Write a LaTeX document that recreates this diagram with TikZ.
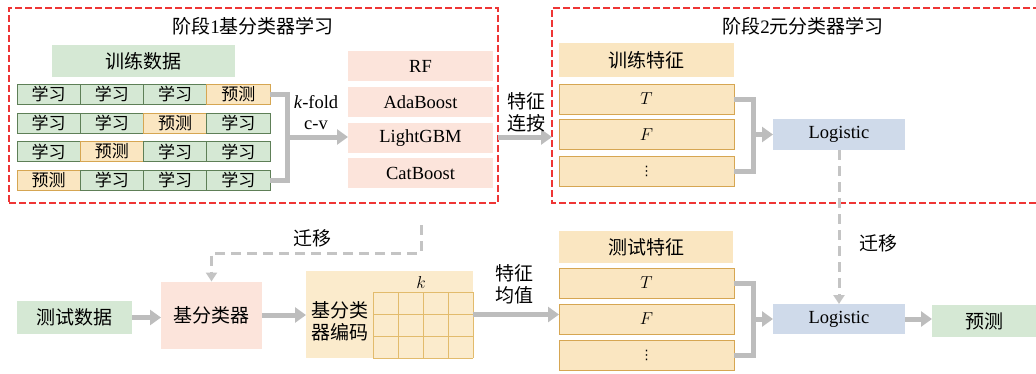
\documentclass[tikz,border=0pt]{standalone}
\usepackage{fontspec}
\setmainfont{Liberation Serif}
\newfontfamily\cjk{Noto Sans CJK SC}
\newfontfamily\symf{DejaVu Sans}
\usetikzlibrary{arrows.meta}
\definecolor{gfill}{HTML}{D5E8D4}
\definecolor{gdraw}{HTML}{5E7F57}
\definecolor{ofill}{HTML}{FAE6C1}
\definecolor{odraw}{HTML}{D6A652}
\definecolor{pfill}{HTML}{FCE4DB}
\definecolor{bfill}{HTML}{CFDAEA}
\definecolor{rdash}{HTML}{EE3535}
\definecolor{garrow}{HTML}{BDBDBD}
\definecolor{gridc}{HTML}{E2BB6C}
\definecolor{encfill}{HTML}{FBEBCC}
\begin{document}
\begin{tikzpicture}[x=1pt,y=-1pt,
  every node/.style={inner sep=0pt,outer sep=0pt,font=\fontsize{18.5}{20}\selectfont},
  sz/.style 2 args={minimum width=#1pt,minimum height=#2pt},
  greenbox/.style={fill=gfill},
  pinkbox/.style={fill=pfill},
  yelbox/.style={fill=ofill},
  bluebox/.style={fill=bfill},
  learncell/.style={fill=gfill,draw=gdraw,line width=1pt,minimum width=63.25pt,minimum height=20pt,font=\fontsize{17}{18}\selectfont\cjk},
  predcell/.style={fill=ofill,draw=odraw,line width=1pt,minimum width=63.25pt,minimum height=20pt,font=\fontsize{17}{18}\selectfont\cjk},
  featbox/.style={fill=ofill,draw=odraw,line width=1pt,minimum width=175pt,minimum height=30pt},
  stageframe/.style={draw=rdash,line width=2.2pt,dash pattern=on 7pt off 3pt},
  flow/.style={draw=garrow,line width=5pt,-{Triangle[length=11pt,width=15pt]}},
  flowline/.style={draw=garrow,line width=5pt},
  transfer/.style={draw=garrow!90,line width=3pt,dash pattern=on 10pt off 6pt,-{Triangle[length=9pt,width=11pt]}},
  zh/.style={font=\fontsize{19}{21}\selectfont\cjk},
  dots/.style={font=\fontsize{13}{13}\selectfont\symf},
]
\useasboundingbox (0,0) rectangle (1036,373);

% ---------- stage frames ----------
\node[stageframe,sz={489}{195}] (stage1) at (253.5,105.5) {};
\draw[stageframe] (1040,8) -- (552,8) -- (552,203) -- (1040,203);
\coordinate (s2w) at (552,137);
\node (title1) at (253,26) {{\fontsize{19}{21}\selectfont\cjk 阶段}{\fontsize{19}{21}\selectfont 1}{\fontsize{19}{21}\selectfont\cjk 基分类器学习}};
\node (title2) at (803,26) {{\fontsize{19}{21}\selectfont\cjk 阶段}{\fontsize{19}{21}\selectfont 2}{\fontsize{19}{21}\selectfont\cjk 元分类器学习}};

% ---------- training data ----------
\node[greenbox,sz={183}{32},zh] (train) at (143.5,61) {训练数据};
\foreach \r/\y/\p in {1/94/4,2/123/3,3/151.5/2,4/180/1}{
  \foreach \c in {1,2,3,4}{
    \pgfmathsetmacro\cx{17+63.25*(\c-1)+31.625}
    \ifnum\c=\p
      \node[predcell] (c\r\c) at (\cx,\y) {预测};
    \else
      \node[learncell] (c\r\c) at (\cx,\y) {学习};
    \fi
  }
}
\coordinate (j1) at (287,137);
\draw[flowline,line join=miter] (c14.east) -| (j1) |- (c44.east);

% ---------- base models ----------
\node[pinkbox,sz={145}{30}] (rf) at (420.5,66) {RF};
\node[pinkbox,sz={145}{30}] (ada) at (420.5,102) {AdaBoost};
\node[pinkbox,sz={145}{30}] (lgbm) at (420.5,138) {LightGBM};
\node[pinkbox,sz={145}{30}] (cat) at (420.5,173) {CatBoost};
\draw[flow] (j1) -- (j1 -| lgbm.west);
\node (kfold) at (316,102) {\textit{k}-fold};
\node (cv) at (316,125) {c-v};

\draw[flow] (stage1.east |- j1) -- (s2w);
\node[zh] (lj1) at (526,101) {特征};
\node[zh] (lj2) at (526,123) {连按};

% ---------- stage 2 ----------
\node[yelbox,sz={175}{34},zh] (trf) at (646.5,60) {训练特征};
\node[featbox] (t1) at (646.5,99) {$T$};
\node[featbox] (f1) at (646.5,134.5) {$F$};
\node[featbox,dots] (d1) at (646.5,171.5) {⋮};
\node[bluebox,sz={132}{31}] (log1) at (839,134.5) {Logistic};
\coordinate (j2) at (753,134.5);
\draw[flowline,line join=miter] (t1.east) -| (j2) |- (d1.east);
\draw[flow] (j2) -- (log1.west);

% ---------- test pipeline ----------
\node[greenbox,sz={115}{33},zh] (tdata) at (74.5,317.5) {测试数据};
\node[pinkbox,sz={101}{67},zh] (base) at (211.5,315) {基分类器};
\node[fill=encfill,sz={167}{87}] (enc) at (389.5,314.5) {};
\foreach \gx in {373,398,423,448,473} \draw[gridc,line width=1pt] (\gx,292) -- (\gx,358);
\foreach \gy in {292,314,336,358} \draw[gridc,line width=1pt] (373,\gy) -- (473,\gy);
\node[align=left,font=\fontsize{19}{22}\selectfont\cjk] (enctxt) at (340,321) {基分类\\器编码};
\node (klab) at (421,282) {\fontsize{17}{17}\selectfont$k$};

\draw[flow] (tdata.east) -- (tdata.east -| base.west);
\draw[flow] (base.east) -- (base.east -| enc.west);

\coordinate (m1) at (421,225);
\coordinate (m2) at (421,253);
\draw[transfer] (m1) -- (m2) -| (base.north);
\node[zh] (mv1) at (312,238) {迁移};

\node[yelbox,sz={174}{32},zh] (tef) at (646,247) {测试特征};
\node[featbox] (t2) at (646.5,283) {$T$};
\node[featbox] (f2) at (646.5,319) {$F$};
\node[featbox,dots] (d2) at (646.5,355.5) {⋮};
\draw[flow] (enc.east) -- (enc.east -| f2.west);
\node[zh] (mj1) at (514,273) {特征};
\node[zh] (mj2) at (514,295) {均值};

\node[bluebox,sz={132}{30}] (log2) at (839,319) {Logistic};
\coordinate (j3) at (753,319);
\draw[flowline,line join=miter] (t2.east) -| (j3) |- (d2.east);
\draw[flow] (j3) -- (log2.west);

\draw[transfer] (log1.south) -- (log2.north);
\node[zh] (mv2) at (878,243) {迁移};

\node[greenbox,sz={104}{32},zh] (pred) at (984,321) {预测};
\draw[flow] (log2.east) -- (log2.east -| pred.west);
\end{tikzpicture}
\end{document}
